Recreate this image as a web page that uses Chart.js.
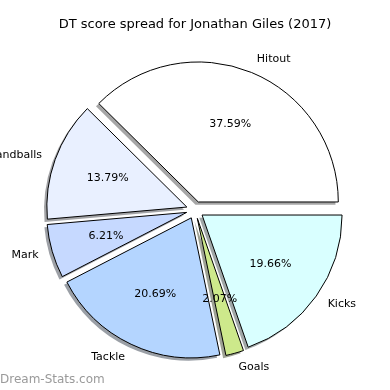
<!DOCTYPE html>
<html>
<head>
<meta charset="utf-8">
<script src="https://cdn.jsdelivr.net/npm/chart.js@4.4.1/dist/chart.umd.min.js"></script>
<style>
  html, body { margin: 0; padding: 0; background: #ffffff; }
  canvas { display: block; }
</style>
</head>
<body>
<canvas id="c" width="390" height="390"></canvas>
<script>
// ---- data (matplotlib order: counter-clockwise from east) ----
const categories = ['Hitout', 'Handballs', 'Mark', 'Tackle', 'Goals', 'Kicks'];
const points = [109, 40, 18, 60, 6, 57];
const percentLabels = ['37.59%', '13.79%', '6.21%', '20.69%', '2.07%', '19.66%'];
const sliceColors = ['#ffffff', '#e9f0ff', '#c6d9ff', '#b4d5ff', '#cde98b', '#d9ffff'];
const titleText = 'DT score spread for Jonathan Giles (2017)';
const watermark = 'Dream-Stats.com';

// Chart.js draws clockwise, so feed reversed copies starting at east
const rev = a => a.slice().reverse();
const cLabels = rev(categories);
const cData = rev(points);
const cPct = rev(percentLabels);
const cColors = rev(sliceColors);

const EXPLODE = 0.062;   // fraction of radius
const SHADOW = 2.8;      // px, down-left

function hexToRgb(h) {
  const n = parseInt(h.slice(1), 16);
  return [(n >> 16) & 255, (n >> 8) & 255, n & 255];
}

const piePlugin = {
  id: 'mplPie',
  afterDatasetUpdate(chart, args) {
    const meta = args.meta;
    meta.data.forEach(el => {
      const mid = (el.startAngle + el.endAngle) / 2;
      const d = EXPLODE * el.outerRadius;
      el.x += Math.cos(mid) * d;
      el.y += Math.sin(mid) * d;
    });
  },
  beforeDatasetsDraw(chart) {
    const ctx = chart.ctx;
    const meta = chart.getDatasetMeta(0);
    meta.data.forEach((el, i) => {
      const [r, g, b] = hexToRgb(cColors[i]);
      ctx.save();
      ctx.translate(-SHADOW, SHADOW);
      ctx.beginPath();
      ctx.moveTo(el.x, el.y);
      ctx.arc(el.x, el.y, el.outerRadius, el.startAngle, el.endAngle);
      ctx.closePath();
      ctx.fillStyle = `rgba(${Math.round(r*0.3)},${Math.round(g*0.3)},${Math.round(b*0.3)},0.5)`;
      ctx.fill();
      ctx.restore();
    });
  },
  afterDatasetsDraw(chart) {
    const ctx = chart.ctx;
    const meta = chart.getDatasetMeta(0);
    ctx.save();
    ctx.font = '11px "DejaVu Sans"';
    ctx.fillStyle = '#000000';
    ctx.textBaseline = 'middle';
    meta.data.forEach((el, i) => {
      const mid = (el.startAngle + el.endAngle) / 2;
      const R = el.outerRadius;
      const cx = Math.cos(mid), sy = Math.sin(mid);
      ctx.textAlign = cx > 0 ? 'left' : 'right';
      ctx.fillText(cLabels[i], el.x + cx * R * 1.1, el.y + sy * R * 1.1);
      ctx.textAlign = 'center';
      ctx.fillText(cPct[i], el.x + cx * R * 0.6, el.y + sy * R * 0.6);
    });
    ctx.restore();
  },
  afterDraw(chart) {
    const ctx = chart.ctx;
    ctx.save();
    ctx.font = '12px "DejaVu Sans"';
    ctx.fillStyle = '#9a9a9a';
    ctx.textAlign = 'left';
    ctx.textBaseline = 'middle';
    ctx.fillText(watermark, 0, 380);
    ctx.restore();
  }
};

new Chart(document.getElementById('c'), {
  type: 'pie',
  data: {
    labels: cLabels,
    datasets: [{
      data: cData,
      backgroundColor: cColors,
      borderColor: '#000000',
      borderWidth: 1,
      hoverOffset: 0
    }]
  },
  options: {
    responsive: false,
    devicePixelRatio: 1,
    animation: false,
    rotation: 90,
    radius: 140,
    events: [],
    layout: { padding: { top: 0, bottom: 30, left: 0, right: 0 } },
    plugins: {
      legend: { display: false },
      tooltip: { enabled: false },
      title: {
        display: true,
        text: titleText,
        color: '#000000',
        font: { family: 'DejaVu Sans', size: 13, weight: 'normal', lineHeight: 1.2 },
        padding: { top: 17, bottom: 27.4 }
      }
    }
  },
  plugins: [piePlugin]
});
</script>
</body>
</html>
